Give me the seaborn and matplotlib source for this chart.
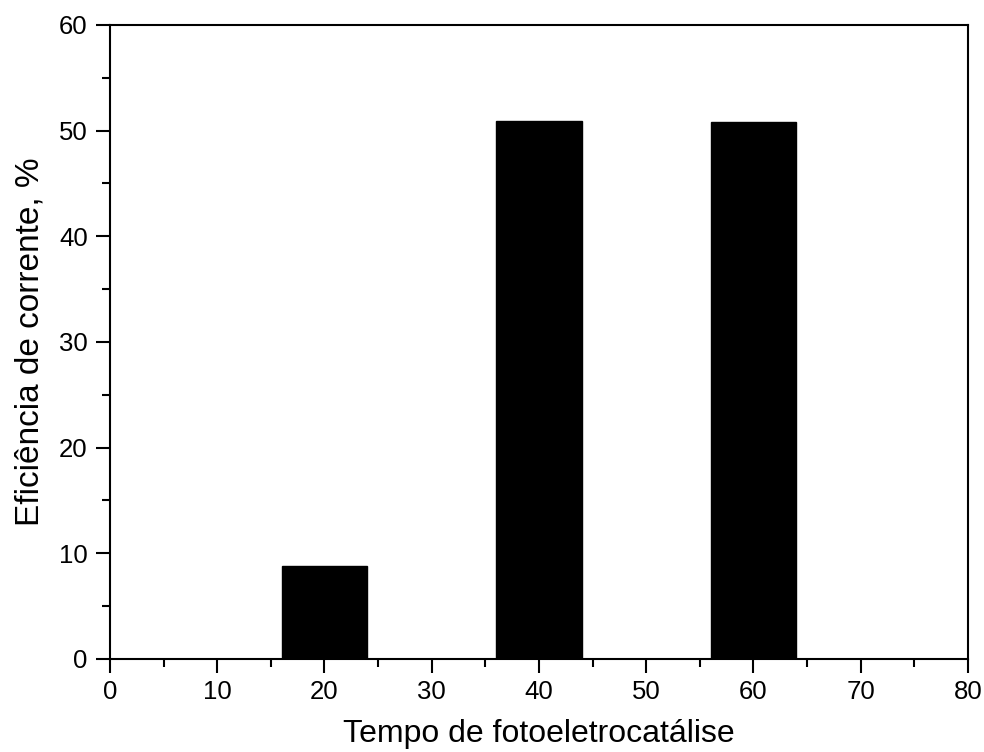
import matplotlib
matplotlib.use("Agg")
import matplotlib.pyplot as plt
import seaborn as sns
import pandas as pd
from matplotlib.ticker import MultipleLocator

tempo = [20, 40, 60]
eficiencia = [8.8, 50.9, 50.8]

sns.set_style("ticks")
plt.rcParams['font.family'] = ['Liberation Sans', 'DejaVu Sans']

df = pd.DataFrame({"tempo": tempo, "eficiencia": eficiencia})

fig = plt.figure(figsize=(9.84, 7.52), dpi=100)
ax = fig.add_axes([0.1118, 0.1237, 0.9837 - 0.1118, 0.9668 - 0.1237])
sns.barplot(data=df, x="tempo", y="eficiencia", native_scale=True, width=0.4,
            color="black", saturation=1, edgecolor="black", ax=ax)

ax.set_xlim(0, 80)
ax.set_ylim(0, 60)
ax.xaxis.set_major_locator(MultipleLocator(10))
ax.xaxis.set_minor_locator(MultipleLocator(5))
ax.yaxis.set_major_locator(MultipleLocator(10))
ax.yaxis.set_minor_locator(MultipleLocator(5))
ax.tick_params(which='major', direction='out', length=10, width=1.5,
               labelsize=18.5, colors='black', labelcolor='black')
ax.tick_params(which='minor', direction='out', length=5.5, width=1.5, colors='black')
ax.tick_params(axis='x', which='major', pad=5)
ax.tick_params(axis='y', which='major', pad=6)
for s in ax.spines.values():
    s.set_visible(True)
    s.set_linewidth(1.5)
    s.set_color("black")

ax.set_xlabel("Tempo de fotoeletrocatálise", fontsize=23, labelpad=11, color='black')
ax.set_ylabel("Eficiência de corrente, %", fontsize=24, labelpad=10, color='black')

fig.savefig("out.png", dpi=100)
